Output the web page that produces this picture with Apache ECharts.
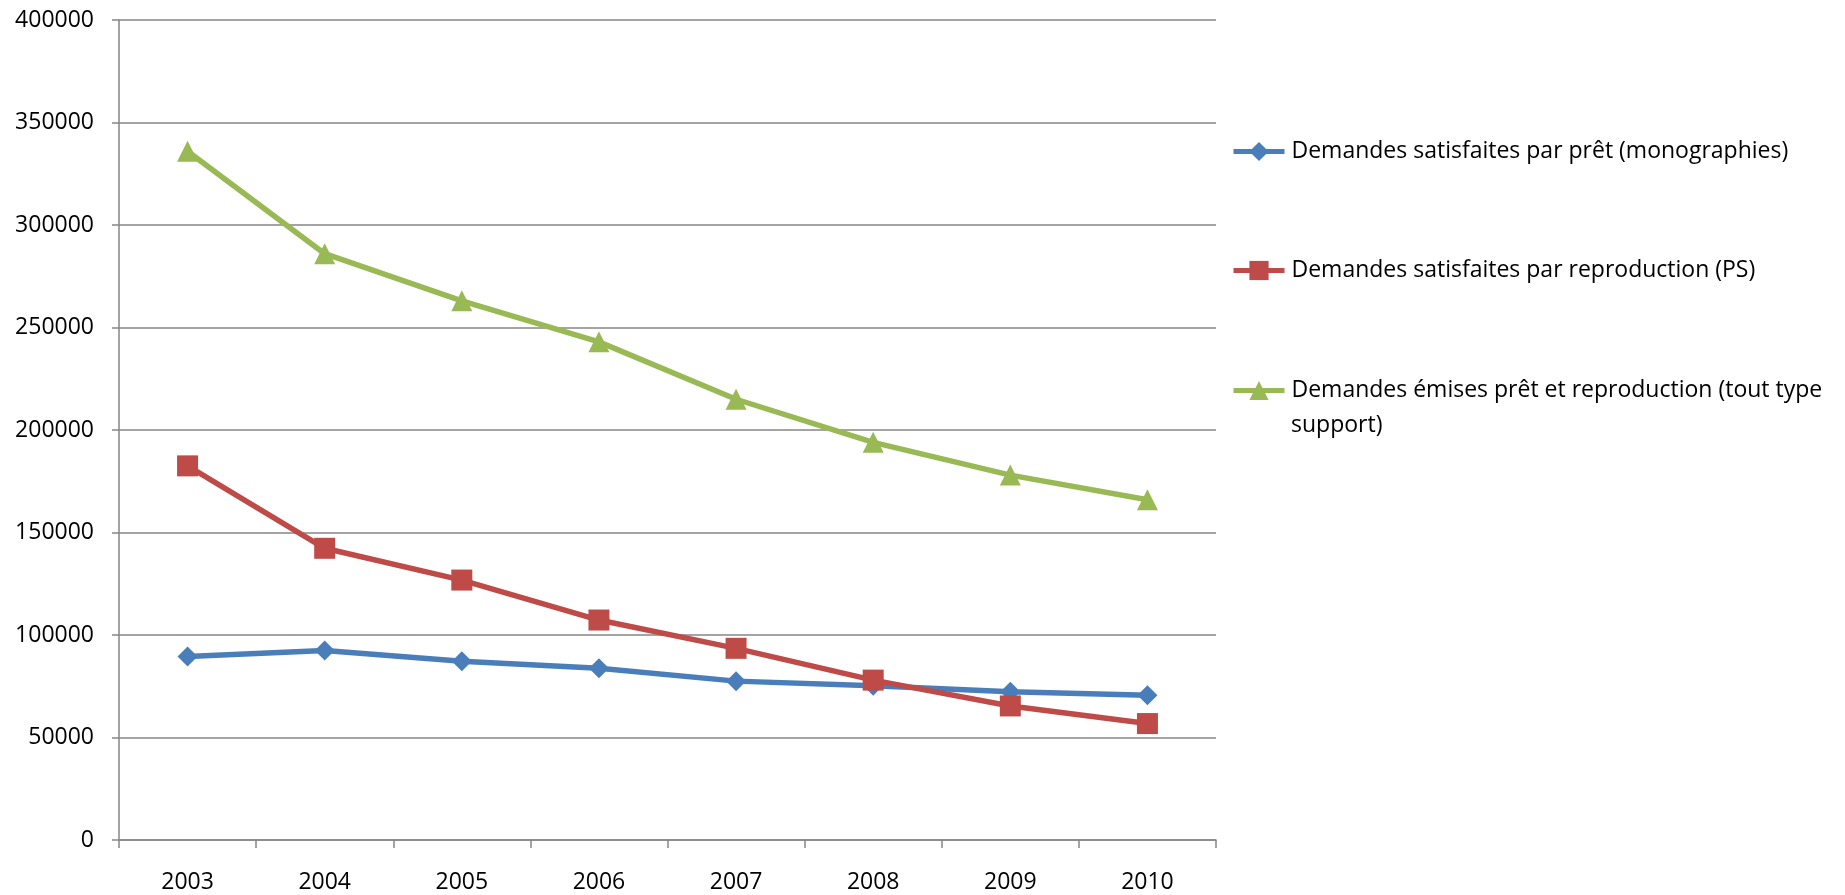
<!DOCTYPE html>
<html>
<head>
<meta charset="utf-8">
<script src="https://cdn.jsdelivr.net/npm/echarts@6/dist/echarts.min.js"></script>
<style>
html,body{margin:0;padding:0;background:#fff;}
#chart{width:1845px;height:895px;}
</style>
</head>
<body>
<div id="chart"></div>
<script>
const years = ['2003','2004','2005','2006','2007','2008','2009','2010'];
const seriesNames = [
  'Demandes satisfaites par prêt (monographies)',
  'Demandes satisfaites par reproduction (PS)',
  'Demandes émises prêt et reproduction (tout type support)'
];
const legendLines = [
  ['Demandes satisfaites par prêt (monographies)'],
  ['Demandes satisfaites par reproduction (PS)'],
  ['Demandes émises prêt et reproduction (tout type', 'support)']
];
const pretMonographies = [89500, 92400, 87200, 83800, 77500, 75200, 72300, 70600];
const reproductionPS = [182500, 142300, 126800, 107300, 93500, 78000, 65400, 56800];
const demandesEmises = [336000, 286000, 263000, 243000, 215000, 194000, 178000, 166000];
const yTicks = [0, 50000, 100000, 150000, 200000, 250000, 300000, 350000, 400000];

const colors = ['#4a7ebb', '#be4b48', '#98b954'];
const FONT = 'Open Sans';
const FS = 23;
const chart = echarts.init(document.getElementById('chart'));

const legendTops = [135, 254, 374];
const legendLeft = 1226;
const legendItemW = 51;
const legendItemH = 24;
const legendTextPad = 2;

function legendFor(i) {
  return {
    orient: 'vertical',
    left: legendLeft,
    top: legendTops[i],
    data: [seriesNames[i]],
    itemWidth: legendItemW,
    itemHeight: legendItemH,
    itemGap: 0,
    selectedMode: false,
    lineStyle: {width: 5},
    formatter: function () { return legendLines[i][0]; },
    textStyle: {fontFamily: FONT, fontSize: FS, color: '#000', padding: [0, 0, 0, legendTextPad]}
  };
}

chart.setOption({
  animation: false,
  color: colors,
  grid: {left: 119, right: 1845 - 1216, top: 20, bottom: 895 - 840, containLabel: false},
  legend: [legendFor(0), legendFor(1), legendFor(2)],
  graphic: [{
    type: 'text',
    left: 1291,
    top: legendTops[2] + 40,
    style: {text: legendLines[2][1], fontFamily: FONT, fontSize: FS, fill: '#000'}
  }],
  xAxis: {
    type: 'category',
    data: years,
    boundaryGap: true,
    axisLine: {lineStyle: {color: '#868686', width: 1.5}},
    axisTick: {show: true, length: 8, lineStyle: {color: '#868686', width: 1.5}},
    axisLabel: {fontFamily: FONT, fontSize: FS, color: '#000', margin: 31}
  },
  yAxis: {
    type: 'value',
    min: yTicks[0],
    max: yTicks[yTicks.length - 1],
    interval: yTicks[1] - yTicks[0],
    axisLine: {show: true, lineStyle: {color: '#868686', width: 1.5}},
    axisTick: {show: true, length: 7, lineStyle: {color: '#868686', width: 1.5}},
    splitLine: {lineStyle: {color: '#868686', width: 1.5}},
    axisLabel: {fontFamily: FONT, fontSize: FS, color: '#000', margin: 25,
                formatter: function (v) { return String(v); }}
  },
  series: [
    {name: seriesNames[0], type: 'line', data: pretMonographies, symbol: 'diamond', symbolSize: 20,
     lineStyle: {width: 5.5, color: colors[0]}, itemStyle: {color: colors[0]}},
    {name: seriesNames[1], type: 'line', data: reproductionPS, symbol: 'rect', symbolSize: 21,
     lineStyle: {width: 5.5, color: colors[1]}, itemStyle: {color: colors[1]}},
    {name: seriesNames[2], type: 'line', data: demandesEmises, symbol: 'triangle', symbolSize: 21,
     lineStyle: {width: 5.5, color: colors[2]}, itemStyle: {color: colors[2]}}
  ]
});
</script>
</body>
</html>
